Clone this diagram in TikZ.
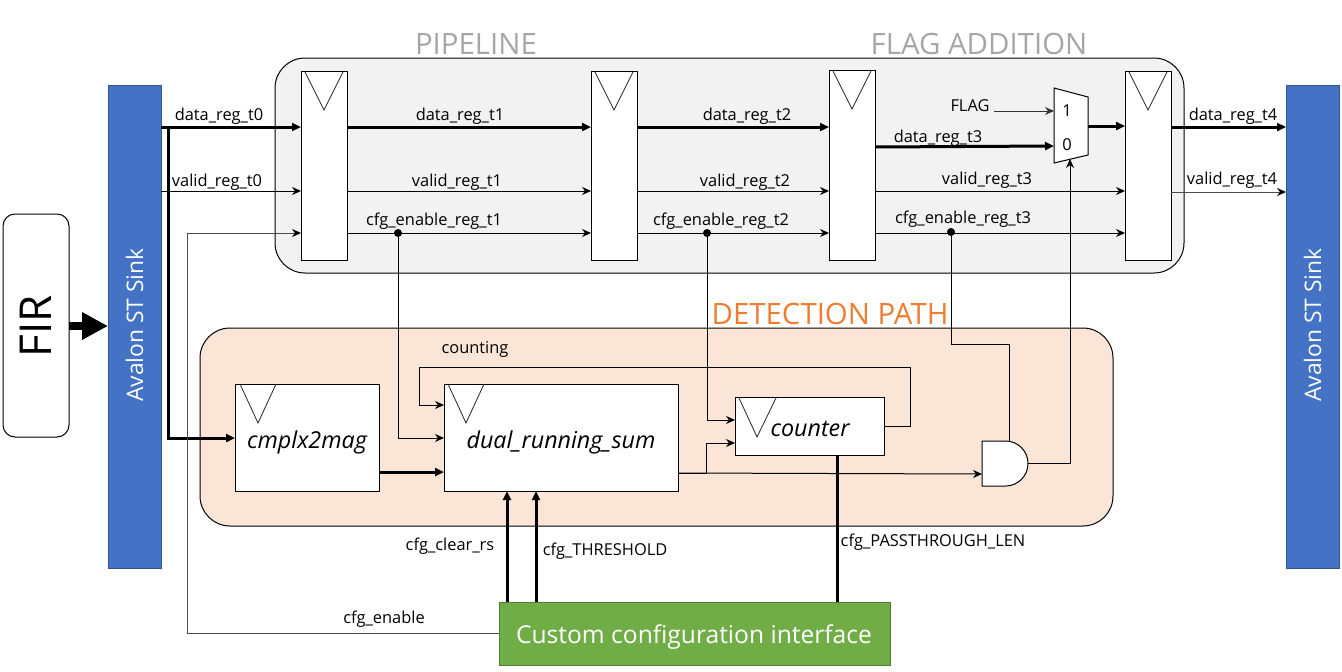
\documentclass[tikz,border=0pt]{standalone}
\usepackage{fontspec}
\setmainfont{Open Sans}
\usetikzlibrary{arrows.meta}
\definecolor{avblue}{HTML}{4472C4}
\definecolor{pipefill}{HTML}{F2F2F2}
\definecolor{detfill}{HTML}{FBE5D6}
\definecolor{cfggreen}{HTML}{70AD47}
\definecolor{cfgedge}{HTML}{507E32}
\definecolor{titlegray}{HTML}{A6A6A6}
\definecolor{titleorange}{HTML}{ED7D31}
\newcommand{\fsz}[1]{\fontsize{#1}{#1}\selectfont}
\tikzset{
  x=1pt,y=-1pt,
  wire/.style={line width=1pt,-{Stealth[length=9pt,width=8pt]}},
  plainwire/.style={line width=1pt},
  graywire/.style={line width=1pt,draw=black!70,-{Stealth[length=9pt,width=8pt,black]}},
  bus/.style={line width=3pt,-{Stealth[length=9pt,width=8pt,inset=0pt]}},
  plainbus/.style={line width=3pt},
  box/.style={draw=black,fill=white,line width=1pt,inner sep=0pt,outer sep=0pt,anchor=north west},
  regbox/.style={box,minimum width=46pt,minimum height=189pt},
  container/.style={draw=black,line width=1pt,rounded corners=30pt,inner sep=0pt,outer sep=0pt,anchor=north west},
  avalon/.style={fill=avblue,draw=avblue!75!black,line width=.6pt,inner sep=0pt,outer sep=0pt,anchor=north west,minimum width=53pt,minimum height=483pt},
  lab/.style={inner sep=0pt,outer sep=0pt,font=\fsz{16.4},yshift=-2pt},
  blk/.style={inner sep=0pt,outer sep=0pt,font=\fsz{23.3}\itshape,yshift=-2pt},
  ttl/.style={inner sep=0pt,outer sep=0pt,font=\fsz{29.4}},
  clk/.style={line width=.8pt,draw=black!85},
  jdot/.style={circle,fill=black,inner sep=0pt,minimum size=8pt,outer sep=0pt},
}
\begin{document}
\begin{tikzpicture}
\useasboundingbox (0,0) rectangle (1342,672);
% containers
\node[container,fill=pipefill,minimum width=909pt,minimum height=215pt] (pipe) at (275,58) {};
\node[container,fill=detfill,minimum width=913pt,minimum height=198pt] (det) at (200,328) {};
% row guides
\coordinate (yd) at (0,127);
\coordinate (yv) at (0,191);
\coordinate (yc) at (0,233);
% blocks
\node[avalon] (avl) at (108,85) {};
\node[rotate=90,text=white,inner sep=0pt,font=\fsz{22.8}] at (134.5,325) {Avalon ST Sink};
\node[avalon] (avr) at (1286,85) {};
\node[rotate=90,text=white,inner sep=0pt,font=\fsz{22.8}] at (1312.5,325) {Avalon ST Sink};
\node[box,rounded corners=12pt,minimum width=66pt,minimum height=223pt] (fir) at (3,214) {};
\node[rotate=90,inner sep=0pt,font=\fsz{44}] at (36,326) {FIR};
\node[regbox] (r1) at (301,71) {};
\node[regbox] (r2) at (591,71) {};
\node[regbox,minimum height=190pt] (r3) at (829,70) {};
\node[regbox] (r4) at (1125,71) {};
\node[box,minimum width=144pt,minimum height=107pt] (mag) at (235,384) {};
\node[box,minimum width=234pt,minimum height=107pt] (sum) at (444,384) {};
\node[box,minimum width=149pt,minimum height=58pt] (cnt) at (735,397) {};
\node[box,draw=cfgedge,fill=cfggreen,minimum width=391pt,minimum height=63pt] (cfg) at (499,602) {};
% clock marks
\foreach \n in {r1,r2,r3,r4}{
  \draw[clk] ([shift={(4,1)}]\n.north west) -- ([shift={(23,39)}]\n.north west) -- ([shift={(42,1)}]\n.north west);
}
\draw[clk] ([shift={(5,0)}]mag.north west) -- ([shift={(23,39)}]mag.north west) -- ([shift={(41,0)}]mag.north west);
\draw[clk] ([shift={(4,0)}]sum.north west) -- ([shift={(22,39)}]sum.north west) -- ([shift={(40,0)}]sum.north west);
\draw[clk] ([shift={(4,1)}]cnt.north west) -- ([shift={(22,40)}]cnt.north west) -- ([shift={(41,1)}]cnt.north west);
% mux
\draw[fill=white,line width=1pt] (1054,88) coordinate (muxa) -- (1088,97) -- (1088,155) -- (1054,163) -- cycle;
\coordinate (mux1) at (1054,111);
\coordinate (mux0) at (1054,146);
\coordinate (muxo) at (1088,126);
\coordinate (muxs) at (1070,159);
\node[lab] at (1067,109) {1};
\node[lab] at (1067,143) {0};
% and gate
\draw[fill=white,line width=1pt] (982,441) -- (1005.5,441) arc[start angle=-90,end angle=90,radius=22.5] -- (982,486) -- cycle;
\coordinate (andtop) at (1009,441);
\coordinate (andin) at (982,474);
\coordinate (andout) at (1028,463);
% pipeline wires
\draw[bus] (avl.east |- yd) -- (r1.west |- yd);
\draw[wire] (avl.east |- yv) -- (r1.west |- yv);
\draw[bus] (r1.east |- yd) -- (r2.west |- yd);
\draw[wire] (r1.east |- yv) -- (r2.west |- yv);
\draw[wire] (r1.east |- yc) -- (r2.west |- yc);
\draw[bus] (r2.east |- yd) -- (r3.west |- yd);
\draw[wire] (r2.east |- yv) -- (r3.west |- yv);
\draw[wire] (r2.east |- yc) -- (r3.west |- yc);
\draw[bus] (r3.east |- 0,147) -- (mux0);
\draw[wire,draw=black!80] (994,111) coordinate (flagend) -- (mux1);
\draw[wire] (r3.east |- yv) -- (r4.west |- yv);
\draw[wire] (r3.east |- yc) -- (r4.west |- yc);
\draw[bus] (muxo) -- (r4.west |- muxo);
\draw[bus] (r4.east |- yd) -- (avr.west |- yd);
\draw[graywire] (r4.east |- 0,192) -- (avr.west |- 0,192);
% junctions
\node[jdot] (j1) at (398,233) {};
\node[jdot] (j2) at (707,233) {};
\node[jdot] (j3) at (951,232) {};
% detection wires
\draw[bus] (168,127) -- (168,438) -- (mag.west |- 0,438);
\draw[wire] (j1) -- (398,438) -- (sum.west |- 0,438);
\draw[wire] (j2) -- (707,420) -- (cnt.west |- 0,420);
\draw[plainwire] (j3) -- (951,344) -- (1009,344) -- (andtop);
\draw[bus] (mag.east |- 0,472) -- (sum.west |- 0,472);
\draw[wire] (cnt.east |- 0,426) -- (910,426) -- (910,367) -- (419,367) -- (419,405) -- (sum.west |- 0,405);
\draw[wire] (sum.east |- 0,473) -- (andin);
\draw[wire] (sum.east |- 0,473) -- (706,473) -- (706,443) -- (cnt.west |- 0,443);
\draw[wire] (andout) -- (1070,463) -- (muxs);
% config wires
\draw[bus] (507,602) -- (507,491);
\draw[bus] (536,602) -- (536,491);
\draw[plainbus] (837,602) -- (cnt.south -| 837,0);
\draw[graywire] (cfg.west |- 0,633) -- (187,633) -- (187,233) -- (r1.west |- yc);
\draw[line width=8pt,-{Stealth[length=26pt,width=26pt,inset=0pt]}] (fir.east |- 0,326) -- (avl.west |- 0,326);
% labels
\node[lab] at (219,114) {data\_reg\_t0};
\node[lab] at (217,180) {valid\_reg\_t0};
\node[lab] at (460,114) {data\_reg\_t1};
\node[lab] at (457,180) {valid\_reg\_t1};
\node[lab] at (434,219) {cfg\_enable\_reg\_t1};
\node[lab] at (747,114) {data\_reg\_t2};
\node[lab] at (745,180) {valid\_reg\_t2};
\node[lab] at (721,219) {cfg\_enable\_reg\_t2};
\node[lab] at (938,136) {data\_reg\_t3};
\node[lab] at (987,178) {valid\_reg\_t3};
\node[lab] at (963,217) {cfg\_enable\_reg\_t3};
\node[lab] at (1233,114) {data\_reg\_t4};
\node[lab] at (1232,178) {valid\_reg\_t4};
\node[lab] at (970,104) {FLAG};
\node[lab] at (475,347) {counting};
\node[lab] at (450,544) {cfg\_clear\_rs};
\node[lab] at (605,549) {cfg\_THRESHOLD};
\node[lab] at (933,540) {cfg\_PASSTHROUGH\_LEN};
\node[lab] at (384,617) {cfg\_enable};
\node[blk] at (307,440) {cmplx2mag};
\node[blk] at (561,440) {dual\_running\_sum};
\node[blk] at (810,427) {counter};
\node[ttl,text=titlegray] at (476,44) {PIPELINE};
\node[ttl,text=titlegray] at (979,44) {FLAG ADDITION};
\node[ttl,text=titleorange] at (830,314) {DETECTION PATH};
\node[text=white,inner sep=0pt,font=\fsz{24.6}] at (694,637) {Custom configuration interface};
\end{tikzpicture}
\end{document}
